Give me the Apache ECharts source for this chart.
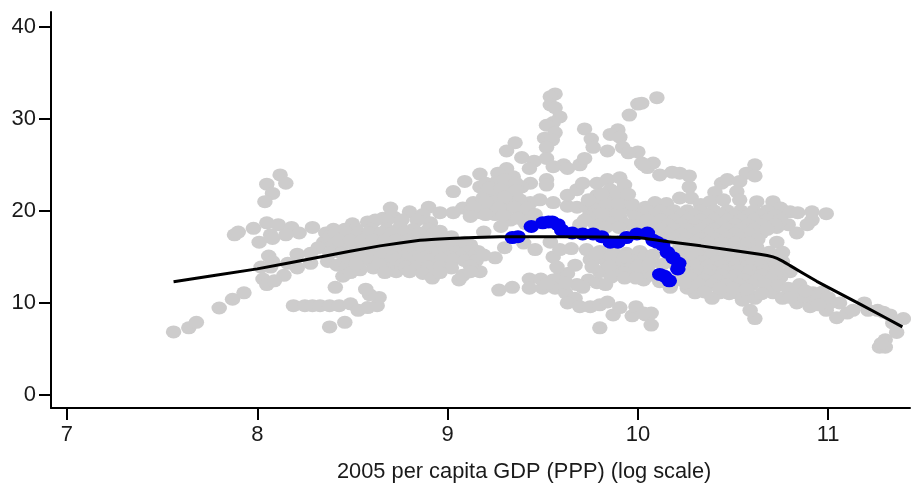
<!DOCTYPE html>
<html>
<head>
<meta charset="utf-8">
<style>html,body{margin:0;padding:0;background:#fff}#c{width:911px;height:485px}</style>
<script src="https://cdn.jsdelivr.net/npm/echarts@6/dist/echarts.min.js"></script>
</head>
<body>
<div id="c"></div>
<script>
var xTicks = [7, 8, 9, 10, 11];
var yTicks = [0, 10, 20, 30, 40];
var axisTitle = '2005 per capita GDP (PPP) (log scale)';

var greyLeft = [
[7.56,6.85],[7.64,7.3],[7.68,7.9],[7.80,9.45],[7.87,10.4],[7.93,11.1],[8.19,9.7],[8.25,9.7],[8.29,9.7],[8.33,9.7],[8.38,9.7],[8.43,9.7],[8.49,9.9],[8.53,9.2],[8.58,9.5],[8.63,9.7],[8.64,10.6],[8.59,10.9],[8.57,11.5],[8.41,11.7],[8.38,7.4],[8.46,7.9],
[8.12,23.9],[8.15,23.0],[8.05,22.9],[8.08,21.9],[8.04,21.0],[7.88,17.4],[7.90,17.7],[7.98,18.1],[8.05,18.7],[8.11,18.5],[8.18,18.2],[8.22,17.6],[8.15,17.4],[8.07,17.4],[8.01,16.6],[8.08,17.0],[8.29,18.2],[8.36,17.6],[8.35,16.6],[8.32,16.0],[8.28,15.4],[8.21,15.3],[8.06,15.1],[8.08,14.5],[8.02,13.9],[8.07,13.9],[8.16,14.3],[8.21,13.8],[8.28,14.3],[8.14,13.0],[8.03,12.6],[8.05,12.0],[8.09,12.4],
[8.37,14.5],[8.42,14.1],[8.47,13.9],[8.45,12.9],[8.49,13.3],[8.54,13.6],[8.61,13.8],[8.58,14.7],[8.66,14.7],[8.73,13.4],[8.70,14.3],
[8.50,18.6],[8.58,18.8],[8.66,19.2],[8.72,19.3],[8.68,19.0],[8.70,20.3],[8.80,19.9],[8.90,20.4],[8.96,19.8],[8.87,19.6],[8.91,18.7],[8.62,19.0],[8.76,19.0],[8.84,19.0],
[8.40,18.0],[8.46,18.0],[8.52,18.0],[8.60,18.0],[8.68,18.0],[8.75,18.2],[8.82,18.0],[8.90,18.0],[8.96,17.8],[9.02,17.2],
[8.38,17.2],[8.44,17.2],[8.50,17.2],[8.56,17.2],[8.62,17.2],[8.68,17.2],[8.74,17.2],[8.80,17.2],[8.86,17.2],[8.92,17.2],[8.98,17.0],
[8.41,17.6],[8.47,17.6],[8.53,17.6],[8.59,17.6],[8.65,17.6],[8.71,17.6],[8.77,17.6],[8.85,17.6],[8.93,17.6],
[8.40,16.3],[8.46,16.3],[8.52,16.3],[8.58,16.3],[8.64,16.3],[8.70,16.3],[8.76,16.3],[8.82,16.3],[8.88,16.3],[8.94,16.3],[9.00,16.3],[9.06,16.3],[9.12,16.3],
[8.43,16.8],[8.49,16.8],[8.55,16.8],[8.61,16.8],[8.67,16.8],[8.73,16.8],[8.79,16.8],[8.85,16.8],[8.91,16.8],[8.97,16.8],[9.03,16.6],[9.09,16.6],
[8.38,15.4],[8.44,15.4],[8.50,15.5],[8.56,15.5],[8.62,15.5],[8.68,15.5],[8.74,15.5],[8.80,15.5],[8.86,15.5],[8.92,15.5],[8.98,15.5],[9.04,15.5],[9.10,15.5],[9.16,15.6],
[8.47,15.0],[8.53,15.0],[8.59,15.0],[8.65,15.0],[8.71,15.0],[8.77,15.0],[8.83,15.0],[8.89,15.0],[8.95,15.0],[9.01,15.0],[9.07,15.0],[9.13,15.0],
[8.55,14.7],[8.73,14.7],[8.79,14.7],[8.85,14.7],[8.91,14.7],[8.97,14.7],[9.03,14.7],[9.09,14.6],[9.15,14.6],[8.52,14.2],[8.64,14.2],[8.76,14.2],
[8.78,13.9],[8.84,13.9],[8.90,13.9],[8.96,13.9],[9.02,13.8],[8.80,13.4],[8.87,13.2],[8.92,12.7],[9.06,12.5],[9.08,13.0],[9.17,13.4],[9.12,14.0],[8.67,13.3],[8.96,13.3],[9.12,13.4]
];

var greyCenter = [
[9.565,32.7],[9.54,32.4],[9.54,31.5],[9.565,31.2],[9.59,30.2],[9.555,29.6],[9.52,29.3],[9.565,28.5],[9.51,27.9],[9.55,27.7],[9.52,26.9],[9.355,27.4],[9.31,26.5],[9.39,25.8],[9.455,25.4],[9.43,24.6],[9.52,25.7],[9.555,24.8],[9.61,25.0],[9.63,24.6],[9.695,25.0],[9.72,25.7],[9.72,28.9],
[10.0,31.6],[10.02,31.7],[10.10,32.3],[9.955,30.4],[9.895,28.8],[9.855,28.3],[9.755,27.8],[9.765,26.9],[9.84,26.5],[9.905,28.0],[9.92,26.9],[10.0,26.4],[9.95,26.3],[10.02,25.2],[10.05,24.7],
[9.17,24.0],[9.09,23.2],[9.03,22.1],[9.17,22.6],[9.31,24.6],[9.265,24.1],[9.345,23.7],[9.26,23.2],[9.32,22.5],[9.435,23.0],[9.39,22.6],[9.52,23.4],[9.52,22.8],[9.345,21.7],[9.24,22.0],[9.19,21.5],[9.135,20.9],[9.08,20.3],[9.03,19.8],[9.29,20.9],[9.22,20.4],[9.17,19.8],[9.31,20.1],[9.38,19.8],[9.485,21.2],[9.435,20.9],[9.555,20.9],[9.63,20.5],[9.68,20.4],[9.63,21.7],[9.68,22.3],[9.71,23.0],[9.785,23.0],[9.84,23.4],[9.905,23.6],[9.93,22.8],[9.855,22.3],[9.785,21.7],[9.87,21.4],[9.93,21.2],[9.73,20.4],[9.80,20.4],[9.87,20.1],[9.94,20.3],[9.77,19.8],[9.84,19.3],[9.905,19.3],[10.01,19.0],[9.77,18.7],[9.87,18.7],[9.695,18.5],[9.975,18.5],
[9.25,21.0],[9.12,20.0],[9.25,19.6],[9.34,21.0],[9.40,19.9],[9.33,19.0],[9.42,19.3],[9.19,17.7],[9.28,18.3],[9.46,15.8],[9.54,16.6],[9.40,16.5],[9.30,16.0],[9.25,14.9],[9.19,15.2],[9.27,11.4],[9.34,11.7],[9.43,12.6],[9.43,11.6],[9.50,11.6],[9.49,12.6],[9.555,12.5],[9.59,12.8],[9.63,13.2],[9.565,11.6],[9.62,11.1],[9.67,10.5],[9.63,10.0],[9.695,9.6],[9.75,9.6],[9.80,9.8],[9.84,10.1],[9.87,8.7],[9.905,9.5],[9.97,8.6],[9.99,9.6],[10.04,8.7],[9.80,7.3],[10.07,7.6],[10.07,8.9],[10.03,8.9],
[9.74,12.5],[9.785,12.2],[9.71,11.7],[9.575,13.9],[9.555,15.0],[9.59,15.8],[9.67,14.1],[9.75,14.7],[9.84,14.3],[9.92,13.9],[10.01,14.7],[9.80,13.4],[9.87,13.3],[9.975,13.3],[10.03,12.5],[9.73,15.8],[9.80,15.6],[9.87,15.5],[9.94,15.4],[10.01,15.6],[9.79,14.9],[9.90,14.7],[9.97,14.6],[9.65,15.9],
[9.20,23.0],[9.30,23.4],[9.36,23.0],[9.22,22.5],[9.28,22.3],[9.36,22.2],[9.20,21.0],[9.30,21.5],[9.38,21.2],[9.14,20.4],[9.27,20.3],[9.35,20.4],[9.20,19.6],[9.29,19.5],[9.37,19.2],[9.42,20.3],[9.41,18.6],[9.46,19.6],[9.12,19.4],
[9.74,19.3],[9.81,19.8],[9.90,19.8],[9.98,19.7],[10.03,19.6],[9.76,20.9],[9.83,20.9],[9.90,20.8],[9.97,20.7],[10.04,20.4],[9.81,21.8],[9.89,22.0],[9.95,21.8],[9.74,21.2],[9.80,18.5],[9.93,18.6],[9.72,19.0],[9.83,18.2],[9.90,18.2],[9.98,18.0],[10.04,18.2],
[9.78,15.3],[9.86,15.0],[9.93,15.0],[10.04,15.1],[9.85,14.0],[9.97,14.0],[10.04,14.0],[9.76,13.9],[9.93,13.3],[10.03,13.3],[9.86,12.8],[9.93,12.7],[9.99,12.7],[9.83,12.0],[9.68,12.0],[9.62,12.2],[9.52,12.1]
];

var greyRight = [
[10.615,25.0],[10.57,24.1],[10.615,23.8],[10.44,23.0],[10.47,23.4],[10.535,23.2],[10.27,22.6],[10.27,23.8],[10.22,24.1],[10.18,24.2],[10.115,23.9],[10.08,25.2],[10.03,25.0],[10.405,22.0],[10.52,22.1],[10.09,20.9],[10.15,20.8],[10.22,21.4],[10.28,21.4],[10.33,20.7],[10.38,21.0],[10.45,21.2],[10.535,21.2],[10.625,21.0],[10.71,21.0],[10.75,20.3],[10.80,19.9],[10.84,19.8],[10.915,19.9],[10.99,19.7],[10.915,19.0],[10.89,18.5],[10.835,17.6],[10.79,18.5],[10.73,18.2],[10.65,17.6],[10.73,16.6],[10.76,15.5],[10.625,16.0],[10.57,17.2],
[10.80,13.4],[10.75,12.8],[10.85,12.0],[10.92,11.1],[10.97,11.2],[10.71,11.1],[10.76,10.5],[10.835,10.0],[10.905,9.6],[10.99,9.2],[11.045,8.4],[11.10,8.9],[11.13,9.2],[11.06,10.0],[11.01,10.0],[10.94,10.3],[10.87,10.7],[11.19,10.0],[11.21,9.2],[11.26,9.2],[11.29,9.0],[11.325,8.7],[11.395,8.3],[11.34,7.8],[11.36,6.8],[11.30,6.0],[11.27,5.2],[11.30,5.2],[11.28,5.6],
[10.615,8.3],[10.59,9.2],[10.55,10.3],[10.615,10.5],[10.52,11.1],[10.39,10.5],[10.43,11.1],[10.30,11.1],[10.26,11.6],[10.17,11.7],[10.115,12.3],
[10.05,20.0],[10.12,20.0],[10.19,20.0],[10.26,20.0],[10.33,20.0],[10.40,20.0],[10.47,20.0],[10.54,20.0],[10.61,20.0],[10.68,20.0],
[10.09,19.5],[10.16,19.5],[10.23,19.5],[10.30,19.5],[10.37,19.5],[10.44,19.5],[10.51,19.5],[10.58,19.5],[10.65,19.5],[10.72,19.5],
[10.05,19.0],[10.12,19.0],[10.19,19.0],[10.26,19.0],[10.33,19.0],[10.40,19.0],[10.47,19.0],[10.54,19.0],[10.61,19.0],[10.68,19.0],[10.75,19.0],
[10.09,18.5],[10.16,18.5],[10.23,18.5],[10.30,18.5],[10.37,18.5],[10.44,18.5],[10.51,18.5],[10.58,18.5],[10.65,18.5],[10.72,18.5],
[10.05,18.0],[10.12,18.0],[10.19,18.0],[10.26,18.0],[10.33,18.0],[10.40,18.0],[10.47,18.0],[10.54,18.0],[10.61,18.0],[10.68,18.0],
[10.16,17.5],[10.23,17.5],[10.30,17.5],[10.37,17.5],[10.44,17.5],[10.51,17.5],[10.58,17.5],
[10.12,17.0],[10.19,17.0],[10.26,17.0],[10.33,17.0],[10.40,17.0],[10.47,17.0],[10.54,17.0],[10.63,16.9],
[10.23,16.5],[10.30,16.5],[10.37,16.5],[10.44,16.5],[10.51,16.5],[10.58,16.5],
[10.22,16.0],[10.30,16.0],[10.37,16.0],[10.44,16.0],[10.51,16.0],[10.57,16.0],
[10.26,15.5],[10.41,15.5],[10.48,15.5],[10.55,15.5],[10.62,15.5],[10.69,15.5],
[10.08,15.2],[10.24,15.0],[10.31,15.3],[10.38,15.0],[10.45,15.0],[10.52,15.0],[10.59,15.0],[10.66,15.0],[10.70,14.8],
[10.27,14.5],[10.34,14.5],[10.41,14.5],[10.48,14.5],[10.55,14.5],[10.62,14.5],[10.69,14.5],[10.76,14.5],
[10.00,14.0],[10.06,14.2],[10.13,14.2],[10.20,14.1],[10.30,14.0],[10.37,14.0],[10.44,14.0],[10.51,14.0],[10.58,14.0],[10.65,14.0],[10.72,14.0],
[10.24,13.5],[10.31,13.5],[10.38,13.5],[10.45,13.5],[10.52,13.5],[10.59,13.5],[10.66,13.5],[10.73,13.5],
[10.08,13.0],[10.24,13.0],[10.30,13.0],[10.37,13.0],[10.44,13.0],[10.51,13.0],[10.58,13.0],[10.65,13.0],[10.72,13.0],
[10.21,12.6],[10.28,12.6],[10.35,12.5],[10.42,12.5],[10.49,12.5],[10.56,12.5],[10.63,12.5],[10.70,12.5],
[10.18,12.2],[10.25,12.2],[10.32,12.0],[10.39,12.0],[10.46,12.0],[10.53,12.0],[10.60,12.0],[10.67,12.0],[10.74,11.9],
[10.35,11.2],[10.48,11.0],[10.58,11.0],[10.65,11.0],[10.79,11.6],[10.83,11.3],[10.43,11.6],[10.50,11.6],[10.57,11.5],[10.88,11.3],[11.0,10.6],[10.80,10.6],[10.95,9.8]
];

var bluePoints = [
[9.34,17.1],[9.37,17.2],[9.44,18.3],[9.50,18.7],[9.53,18.8],[9.55,18.8],[9.58,18.5],[9.60,17.9],[9.655,17.6],[9.71,17.5],[9.765,17.5],[9.81,17.2],[9.855,16.6],[9.895,16.6],[9.94,17.1],[9.995,17.5],[10.05,17.6],[10.08,16.8],[10.10,16.6],[10.13,16.3],[10.155,15.5],[10.185,14.9],[10.215,14.3],[10.21,13.7],[10.115,13.1],[10.14,12.9],[10.165,12.4]
];

var fitLine = [
[7.56,12.3],[8.0,13.7],[8.33,15.0],[8.645,16.2],[8.855,16.8],[9.01,17.0],[9.275,17.2],[9.59,17.2],[10.0,17.1],[10.14,16.7],[10.33,16.2],[10.64,15.3],[10.71,15.0],[10.76,14.55],[10.80,14.05],[10.94,12.35],[11.17,9.85],[11.39,7.4]
];

var ellipse = 'path://M0,5a7,5 0 1,0 14,0a7,5 0 1,0 -14,0z';
var txt = {color:'#1a1a1a', fontFamily:'Liberation Sans', fontSize:22};

var chart = echarts.init(document.getElementById('c'), null, {renderer:'canvas'});
function axis(min, max, ticks, margin) {
  return {
    type:'value', min:min, max:max, splitLine:{show:false},
    axisLine:{show:true, onZero:false, lineStyle:{color:'#000', width:2}},
    axisTick:{show:true, length:12, customValues:ticks, lineStyle:{color:'#000', width:2}},
    axisLabel:Object.assign({customValues:ticks, margin:margin, showMinLabel:true, showMaxLabel:true}, txt)
  };
}
function scatter(data, color, size) {
  return {type:'scatter', data:data, symbol:ellipse, symbolSize:size, itemStyle:{color:color, opacity:1}, silent:true};
}
var dot = [15.5, 13];
chart.setOption({
  animation:false,
  backgroundColor:'#fff',
  grid:{left:51, right:1, top:12, bottom:77},
  title:{text:axisTitle, left:332, top:456, textStyle:{color:'#1a1a1a', fontFamily:'Liberation Sans', fontSize:21.8, fontWeight:'normal'}},
  xAxis:axis(6.916, 11.43, xTicks, 16),
  yAxis:axis(-1.41, 41.6, yTicks, 15),
  series:[
    scatter(greyLeft, '#cdcccc', dot),
    scatter(greyCenter, '#cdcccc', dot),
    scatter(greyRight, '#cdcccc', dot),
    scatter(bluePoints, '#0000f0', dot),
    {type:'line', data:fitLine, symbol:'none', smooth:0.08, lineStyle:{color:'#000', width:3}, silent:true}
  ]
});
</script>
</body>
</html>
